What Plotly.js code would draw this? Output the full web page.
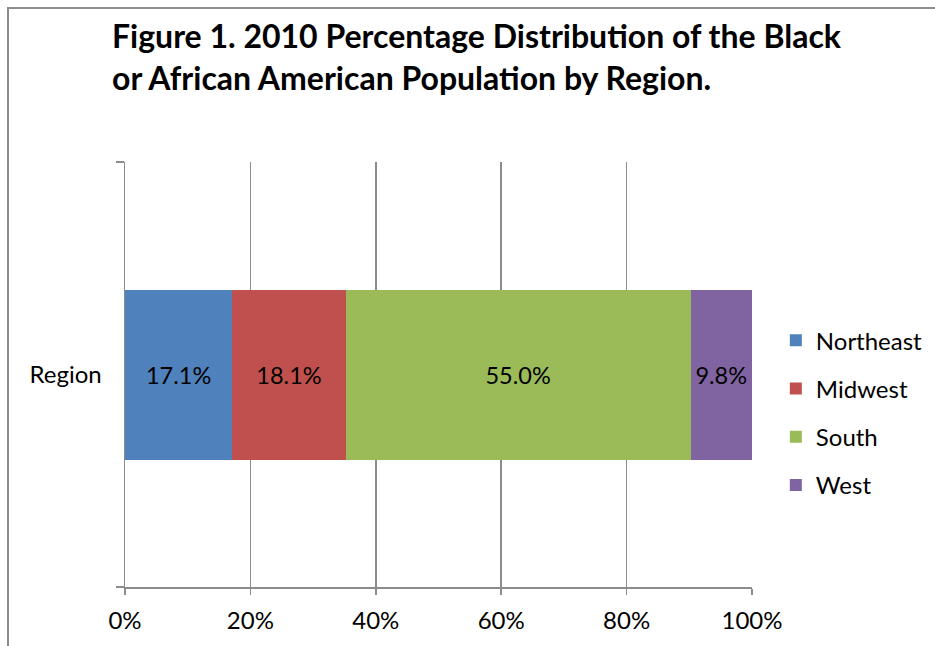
<!DOCTYPE html>
<html>
<head>
<meta charset="utf-8">
<script src="https://cdn.plot.ly/plotly-3.0.1.min.js"></script>
<style>
  html, body { margin: 0; padding: 0; background: #fff; }
  #chart { width: 935px; height: 646px; }
  #frame { position: absolute; left: 7px; top: 7px; width: 1000px; height: 1000px;
           border-left: 2px solid #8c8c8c; border-top: 2px solid #8c8c8c; pointer-events: none; }
</style>
</head>
<body>
<div id="chart"></div>
<div id="frame"></div>
<script>
const categories = ["Region"];
const regions = ["Northeast", "Midwest", "South", "West"];
const values = [17.1, 18.1, 55.0, 9.8];
const colors = ["#4F81BD", "#C0504D", "#9BBB59", "#8064A2"];
const tickVals = [0, 20, 40, 60, 80, 100];
const tickText = ["0%", "20%", "40%", "60%", "80%", "100%"];
const titleText = "Figure 1. 2010 Percentage Distribution of the Black<br>or African American Population by Region.";

const FONT = "Lato, 'Open Sans', sans-serif";

const traces = regions.map((r, i) => ({
  type: "bar",
  orientation: "h",
  name: r,
  legendgroup: r,
  y: categories,
  x: [values[i]],
  text: [values[i].toFixed(1) + "%"],
  textposition: "inside",
  insidetextanchor: "middle",
  constraintext: "none",
  textfont: { family: FONT, size: 23.5, color: "#000" },
  marker: { color: colors[i], line: { width: 0 } },
  hoverinfo: "skip"
}));

const layout = {
  width: 935,
  height: 646,
  margin: { l: 125, r: 183, t: 162, b: 59, autoexpand: false },
  paper_bgcolor: "#fff",
  plot_bgcolor: "#fff",
  font: { family: FONT, size: 24, color: "#000" },
  title: {
    text: titleText,
    font: { family: FONT, size: 32, color: "#000", weight: "bold" },
    x: 112 / 935, xanchor: "left", xref: "container",
    y: 1 - 48 / 646, yanchor: "top", yref: "container",
    align: "left"
  },
  barmode: "stack",
  bargap: 0.6,
  showlegend: true,
  legend: {
    x: 1.038, xanchor: "left",
    y: 0.41, yanchor: "middle",
    traceorder: "grouped",
    tracegroupgap: 14,
    font: { family: FONT, size: 24, color: "#000" },
    bgcolor: "rgba(0,0,0,0)"
  },
  xaxis: {
    range: [0, 100],
    tickvals: tickVals,
    ticktext: tickText,
    showgrid: true,
    gridcolor: "#8c8c8c",
    gridwidth: 1.5,
    zeroline: false,
    showline: true,
    linecolor: "#8c8c8c",
    linewidth: 1.5,
    ticks: "outside",
    ticklen: 6,
    tickcolor: "#8c8c8c",
    tickwidth: 1.5,
    ticklabelstandoff: 6,
    tickfont: { family: FONT, size: 24, color: "#000" },
    fixedrange: true
  },
  yaxis: {
    type: "category",
    showgrid: false,
    zeroline: false,
    showline: true,
    linecolor: "#8c8c8c",
    linewidth: 1.5,
    ticks: "outside",
    tickson: "boundaries",
    ticklen: 8,
    tickcolor: "#8c8c8c",
    tickwidth: 1.5,
    ticklabelstandoff: 17,
    tickfont: { family: FONT, size: 24, color: "#000" },
    fixedrange: true
  }
};

Plotly.newPlot("chart", traces, layout, { displayModeBar: false, staticPlot: true });
</script>
</body>
</html>
